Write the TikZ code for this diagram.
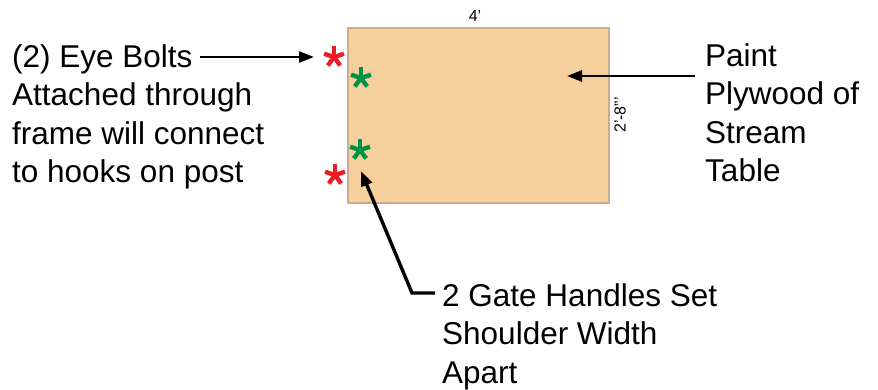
\documentclass[tikz,border=0pt]{standalone}
\usepackage{fontspec}
\setmainfont{Liberation Sans}
\usetikzlibrary{arrows.meta}
\definecolor{ply}{RGB}{245,208,156}
\definecolor{plyedge}{RGB}{200,172,140}
\definecolor{astred}{RGB}{237,28,36}
\definecolor{astgreen}{RGB}{0,146,69}
\begin{document}
\begin{tikzpicture}[x=1pt,y=-1pt,
  label text/.style={inner sep=0pt, align=left, anchor=base west, font=\fontsize{31.5}{38.5}\selectfont},
  dim text/.style={inner sep=0pt, font=\fontsize{16}{18}\selectfont},
  callout/.style={draw=black, line width=2.5pt, -{Triangle[length=15pt,width=11pt]}},
  star/.style={inner sep=0pt, minimum size=21pt},
]
\useasboundingbox (0,0) rectangle (878,390);
% plywood
\node[draw=plyedge, line width=2pt, fill=ply, minimum width=261pt, minimum height=175pt, inner sep=0pt, anchor=north west] (board) at (347,27) {};
\node[dim text] (w) at (475,16) {4'};
\node[dim text, rotate=90] (h) at (620,115) {2'-8"'};
% asterisks
\foreach \n/\x/\y/\c in {r1/334/57/astred, r2/335/175/astred, g1/361/78/astgreen, g2/360/150/astgreen}{
  \node[star] (\n) at (\x,\y) {};
  \foreach \a in {90,18,162,234,306}
    \draw[\c, line width=4.4pt] (\n.center) -- ++(\a:-10.5);
}
% texts (anchored at the baseline of the last line)
\node[label text] (eye) at (12,183) {(2) Eye Bolts\\Attached through\\frame will connect\\to hooks on post};
\node[label text] (paint) at (705,182) {Paint\\Plywood of\\Stream\\Table};
\node[label text] (gate) at (442,383) {2 Gate Handles Set\\Shoulder Width\\Apart};
% connectors
\coordinate (eyeA) at (200,57);
\coordinate (eyeB) at (314,57);
\draw[callout] (eyeA) -- (eyeB);
\coordinate (paintA) at (695,76);
\coordinate (paintB) at (567,76);
\draw[callout] (paintA) -- (paintB);
\coordinate (gateA) at (435,293);
\coordinate (gateK) at (412,293);
\coordinate (gateB) at (361,171);
\draw[callout, line width=3.4pt] (gateA) -- (gateK) -- (gateB);
\end{tikzpicture}
\end{document}
